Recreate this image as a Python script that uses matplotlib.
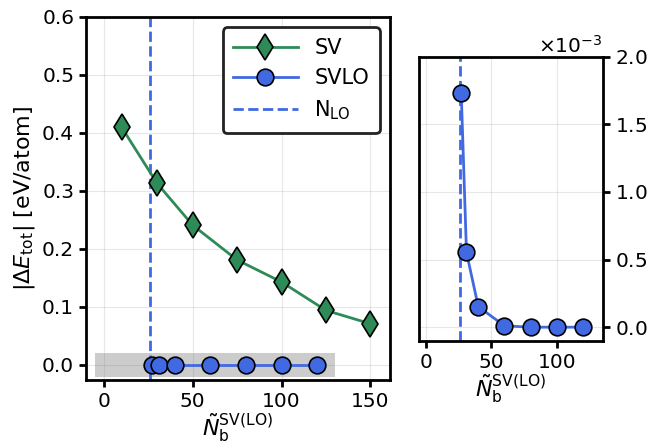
import matplotlib.pyplot as plt
from matplotlib.ticker import ScalarFormatter

# SV basis convergence
sv_nb = [10, 30, 50, 75, 100, 125, 150]
sv_de = [0.410, 0.313, 0.241, 0.181, 0.143, 0.094, 0.071]

# SVLO basis convergence
svlo_nb = [27, 31, 40, 60, 80, 100, 120]
svlo_de = [1.73e-3, 0.553e-3, 0.152e-3, 0.010e-3, 0.0, 0.0, 0.0]

n_lo = 26
zoom_box_x = [-5, 130]
zoom_box_y = 0.02

green = "#2e8b57"
blue = "#4169e1"

plt.rcParams["font.size"] = 14.5

fig = plt.figure(figsize=(6.59, 4.47), dpi=100)
ax = fig.add_axes([0.1305, 0.1499, 0.4613, 0.8121])
ax2 = fig.add_axes([0.6363, 0.2378, 0.2783, 0.6354])

xlab = r"$\tilde{N}_{\rm b}^{\rm SV(LO)}$"

# left panel
ax.fill_between(zoom_box_x, -zoom_box_y, zoom_box_y, color="gray", alpha=0.4,
                linewidth=0, zorder=1)
ax.plot(sv_nb, sv_de, "-d", color=green, lw=2, ms=13, mec="black", mew=1.2,
        label="SV", zorder=3)
ax.plot(svlo_nb, [0] * len(svlo_nb), "-o", color=blue, lw=2, ms=12, mec="black",
        mew=1.2, label="SVLO", zorder=3)
ax.axvline(n_lo, color=blue, ls="--", lw=2, label=r"N$_{\rm LO}$", zorder=2)

ax.set_xlim(-10, 161)
ax.set_ylim(-0.026, 0.6)
ax.set_xticks([0, 50, 100, 150])
ax.set_yticks([0.0, 0.1, 0.2, 0.3, 0.4, 0.5, 0.6])
ax.set_ylabel(r"$|\Delta E_{\rm tot}|$ [eV/atom]", fontsize=16)
ax.set_xlabel(xlab, fontsize=16, labelpad=1)
ax.grid(alpha=0.3)
ax.set_axisbelow(True)

leg = ax.legend(loc="upper right", fontsize=15, handlelength=3.1,
                fancybox=True, framealpha=1, borderpad=0.5,
                borderaxespad=0.5)
leg.get_frame().set_edgecolor("#222222")
leg.get_frame().set_linewidth(2)

# right panel
ax2.plot(svlo_nb, svlo_de, "-o", color=blue, lw=2, ms=12, mec="black", mew=1.2,
         zorder=3)
ax2.axvline(n_lo, color=blue, ls="--", lw=2, zorder=2)
ax2.set_xlim(-5, 135)
ax2.set_ylim(-0.1e-3, 2.0e-3)
ax2.set_xticks([0, 50, 100])
ax2.set_yticks([0.0, 0.5e-3, 1.0e-3, 1.5e-3, 2.0e-3])
fmt = ScalarFormatter(useMathText=True)
fmt.set_powerlimits((-2, 2))
ax2.yaxis.set_major_formatter(fmt)
ax2.yaxis.tick_right()
ax2.set_xlabel(xlab, fontsize=16, labelpad=1)
ax2.grid(alpha=0.3)
ax2.set_axisbelow(True)

for a in (ax, ax2):
    for s in a.spines.values():
        s.set_linewidth(2)
    a.tick_params(width=2, length=5)

fig.savefig("out.png", dpi=100)
